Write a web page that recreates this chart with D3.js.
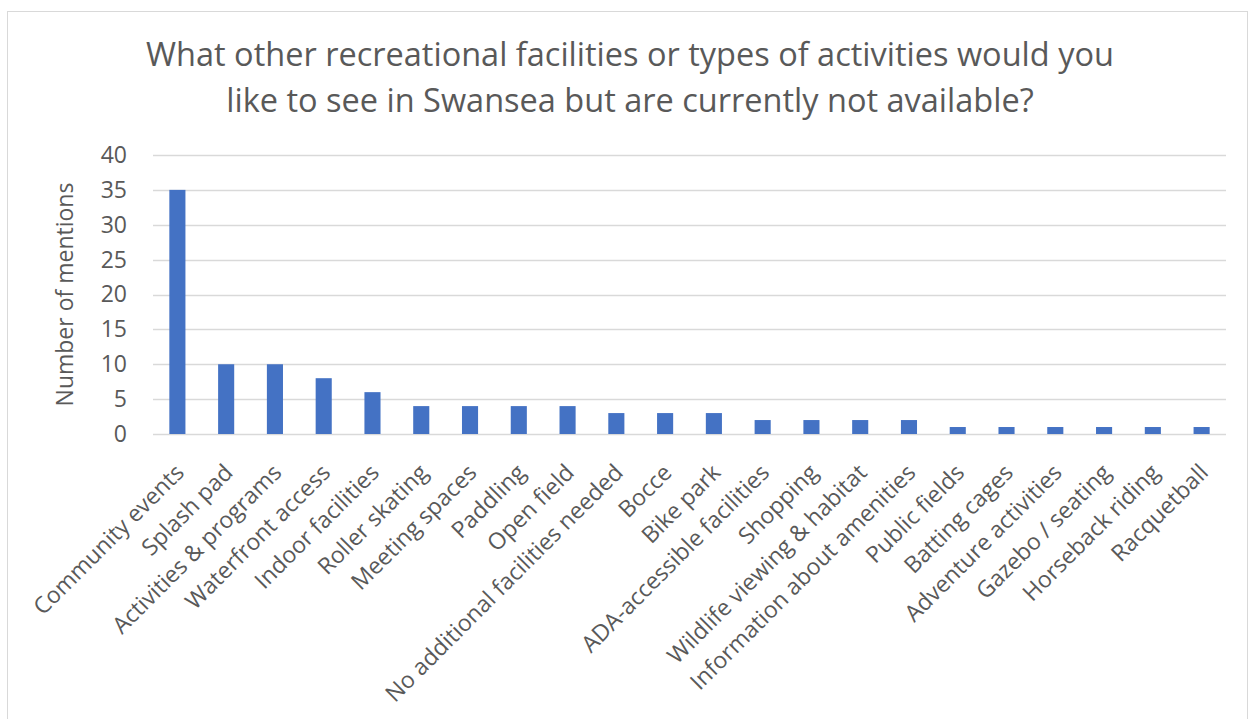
<!DOCTYPE html>
<html>
<head>
<meta charset="utf-8">
<script src="https://cdn.jsdelivr.net/npm/d3@7"></script>
<style>
  body { margin: 0; background: #fff; }
  svg { display: block; font-family: "Open Sans", sans-serif; }
</style>
</head>
<body>
<svg viewBox="0 0 1250 719" width="1250" height="719"></svg>
<script>
const categories = ["Community events", "Splash pad", "Activities & programs", "Waterfront access",
    "Indoor facilities", "Roller skating", "Meeting spaces", "Paddling", "Open field",
    "No additional facilities needed", "Bocce", "Bike park", "ADA-accessible facilities",
    "Shopping", "Wildlife viewing & habitat", "Information about amenities", "Public fields",
    "Batting cages", "Adventure activities", "Gazebo / seating", "Horseback riding", "Racquetball"];
const mentions = [35, 10, 10, 8, 6, 4, 4, 4, 4, 3, 3, 3, 2, 2, 2, 2, 1, 1, 1, 1, 1, 1];
const yTicks = [0, 5, 10, 15, 20, 25, 30, 35, 40];
const titleLines = ["What other recreational facilities or types of activities would you",
    "like to see in Swansea but are currently not available?"];
const yLabel = "Number of mentions";

const svg = d3.select("svg");
const textColor = "#595959";
const gridColor = "#d9d9d9";

// chart frame
svg.append("rect")
    .attr("x", 7.5).attr("y", 11.5)
    .attr("width", 1240).attr("height", 720)
    .attr("fill", "#fff")
    .attr("stroke", gridColor);

const plot = { left: 153, right: 1226, top: 155, bottom: 434 };

const x = d3.scaleBand()
    .domain(categories)
    .range([plot.left, plot.right])
    .paddingInner(0.67)
    .paddingOuter(0.335);

const y = d3.scaleLinear()
    .domain([0, 40])
    .range([plot.bottom, plot.top]);

// title
const title = svg.append("text")
    .attr("text-anchor", "middle")
    .attr("fill", textColor)
    .attr("font-size", 32.5);
titleLines.forEach((line, i) => {
    title.append("tspan")
        .attr("x", 630)
        .attr("y", 66 + i * 46)
        .text(line);
});

// gridlines
svg.append("g")
    .selectAll("line")
    .data(yTicks)
    .join("line")
    .attr("x1", plot.left).attr("x2", plot.right)
    .attr("y1", d => Math.round(y(d)) + 0.5)
    .attr("y2", d => Math.round(y(d)) + 0.5)
    .attr("stroke", gridColor)
    .attr("stroke-width", 1.5);

// y axis labels
const yAxis = svg.append("g")
    .attr("transform", `translate(${plot.left - 26},0)`)
    .call(d3.axisLeft(y).tickValues(yTicks).tickSize(0).tickPadding(0));
yAxis.select(".domain").remove();
yAxis.selectAll("text")
    .attr("fill", textColor)
    .attr("font-size", 23)
    .attr("font-family", "'Open Sans', sans-serif");

svg.append("text")
    .attr("transform", `translate(73,${(plot.top + plot.bottom) / 2}) rotate(-90)`)
    .attr("text-anchor", "middle")
    .attr("fill", textColor)
    .attr("font-size", 23)
    .text(yLabel);

// bars
svg.append("g")
    .selectAll("rect")
    .data(mentions)
    .join("rect")
    .attr("x", (d, i) => x(categories[i]))
    .attr("y", d => y(d))
    .attr("width", x.bandwidth())
    .attr("height", d => y(0) - y(d))
    .attr("fill", "#4472c4");

// x axis labels
const xAxis = svg.append("g")
    .attr("transform", `translate(0,${plot.bottom})`)
    .call(d3.axisBottom(x).tickSize(0).tickPadding(0));
xAxis.select(".domain").remove();
xAxis.selectAll("text")
    .attr("fill", textColor)
    .attr("font-size", 23)
    .attr("font-family", "'Open Sans', sans-serif")
    .attr("text-anchor", "end")
    .attr("dy", 0)
    .attr("transform", "translate(8,40) rotate(-45)");
</script>
</body>
</html>
